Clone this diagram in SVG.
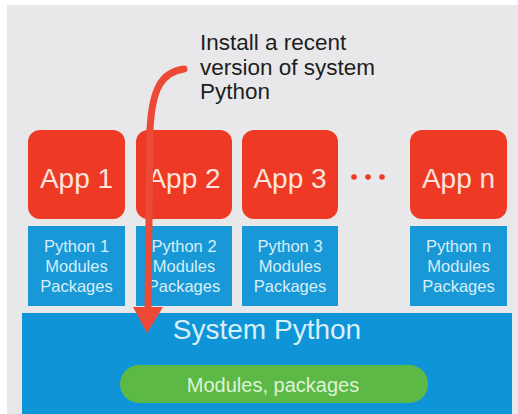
<svg xmlns="http://www.w3.org/2000/svg" width="518" height="414" viewBox="0 0 518 414">
<defs>
<style>
.app{fill:#ee3a24}
.apptxt{font-family:"Liberation Sans",Arial,sans-serif;font-size:28px;fill:#fbe3de;text-anchor:middle}
.env{fill:#1898d6}
.envtxt{font-family:"Liberation Sans",Arial,sans-serif;font-size:16.5px;fill:#d8eef9;text-anchor:middle}
.title{font-family:"Liberation Sans",Arial,sans-serif;font-size:22.5px;fill:#1e1e1e}
</style>
</defs>
<rect x="0" y="0" width="518" height="414" fill="#ffffff"/>
<rect x="7" y="5" width="511" height="409" fill="#e8e8ea"/>
<text class="title"><tspan x="200" y="50">Install a recent</tspan><tspan x="200" y="75">version of system</tspan><tspan x="200" y="99">Python</tspan></text>
<g id="app1"><rect class="app" x="28" y="130" width="97" height="89" rx="12"/><text class="apptxt" x="76.5" y="188">App 1</text></g>
<g id="app2"><rect class="app" x="136" y="130" width="96" height="89" rx="12"/><text class="apptxt" x="184" y="188">App 2</text></g>
<g id="app3"><rect class="app" x="242" y="130" width="96" height="89" rx="12"/><text class="apptxt" x="290" y="188">App 3</text></g>
<g id="dots" fill="#ee3a24"><circle cx="354" cy="177" r="2.8"/><circle cx="368" cy="177" r="2.8"/><circle cx="382" cy="177" r="2.8"/></g>
<g id="appn"><rect class="app" x="410" y="130" width="97" height="89" rx="12"/><text class="apptxt" x="458.5" y="188">App n</text></g>
<g id="env1"><rect class="env" x="28" y="226" width="97" height="80"/><text class="envtxt"><tspan x="76.5" y="252">Python 1</tspan><tspan x="76.5" y="272">Modules</tspan><tspan x="76.5" y="292">Packages</tspan></text></g>
<g id="env2"><rect class="env" x="136" y="226" width="96" height="80"/><text class="envtxt"><tspan x="184" y="252">Python 2</tspan><tspan x="184" y="272">Modules</tspan><tspan x="184" y="292">Packages</tspan></text></g>
<g id="env3"><rect class="env" x="242" y="226" width="96" height="80"/><text class="envtxt"><tspan x="290" y="252">Python 3</tspan><tspan x="290" y="272">Modules</tspan><tspan x="290" y="292">Packages</tspan></text></g>
<g id="envn"><rect class="env" x="410" y="226" width="97" height="80"/><text class="envtxt"><tspan x="458.5" y="252">Python n</tspan><tspan x="458.5" y="272">Modules</tspan><tspan x="458.5" y="292">Packages</tspan></text></g>
<g id="system"><rect x="22" y="313" width="490" height="101" fill="#0f95d7"/><text x="267" y="339" font-family="'Liberation Sans',Arial,sans-serif" font-size="28px" fill="#d9f0fb" text-anchor="middle">System Python</text></g>
<g id="modules"><rect x="120" y="365" width="308" height="38" rx="19" fill="#5cb946"/><text x="273" y="392" font-family="'Liberation Sans',Arial,sans-serif" font-size="20px" fill="#dff3d6" text-anchor="middle">Modules, packages</text></g>
<g id="connectors">
<path d="M184 69 C162 72 152 88 150 130 L148 310" fill="none" stroke="#ec4a36" stroke-width="7" stroke-linecap="round"/>
<polygon points="133,307 163,307 147,333" fill="#ec4a36"/>
</g>
</svg>
